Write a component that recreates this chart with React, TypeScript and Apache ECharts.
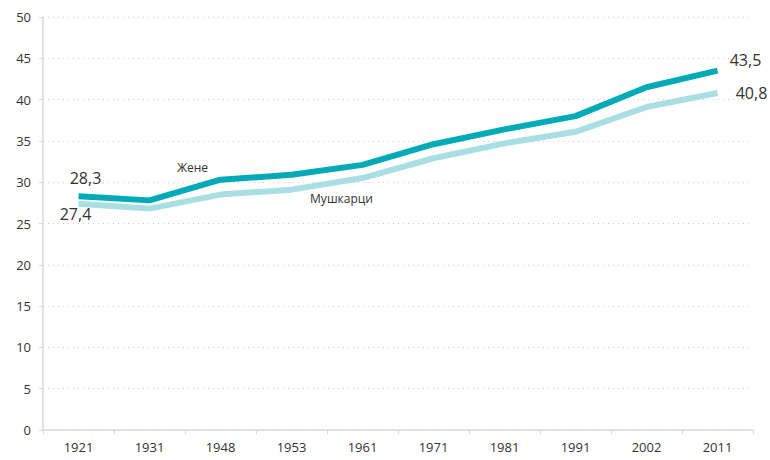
import React, { useEffect, useRef } from "react";
import * as echarts from "echarts";

const years = ["1921", "1931", "1948", "1953", "1961", "1971", "1981", "1991", "2002", "2011"];
const women = [28.3, 27.8, 30.3, 30.9, 32.1, 34.6, 36.4, 38.0, 41.5, 43.5];
const men = [27.4, 26.8, 28.5, 29.1, 30.5, 32.9, 34.7, 36.1, 39.1, 40.8];
const womenName = "Жене";
const menName = "Мушкарци";

const FONT = "'Open Sans', 'Noto Sans', sans-serif";

function fmt(v: number) {
  return v.toFixed(1).replace(".", ",");
}

export default function App() {
  const ref = useRef<HTMLDivElement>(null);
  useEffect(() => {
    const chart = echarts.init(ref.current!, null, { renderer: "svg" });
    const valLabel = (offset: number[]) => ({
      show: true,
      position: "inside",
      offset,
      formatter: (p: any) => fmt(p.value),
      fontSize: 16,
      color: "#333",
      fontFamily: FONT,
    });
    const nameLabel = (name: string, offset: number[]) => ({
      show: true,
      position: "inside",
      offset,
      formatter: name,
      fontSize: 12,
      color: "#333",
      fontFamily: FONT,
    });
    const wData: any[] = women.map((v, i) => {
      if (i === 0) return { value: v, label: valLabel([7, -18]) };
      if (i === 2) return { value: v, label: nameLabel(womenName, [-28, -12]) };
      if (i === women.length - 1) return { value: v, label: valLabel([28, -11]) };
      return v;
    });
    const mData: any[] = men.map((v, i) => {
      if (i === 0) return { value: v, label: valLabel([-3, 10]) };
      if (i === 3) return { value: v, label: nameLabel(menName, [50, 9]) };
      if (i === men.length - 1) return { value: v, label: valLabel([34, 0]) };
      return v;
    });
    chart.setOption({
      animation: false,
      grid: { left: 43, right: 17, top: 17, bottom: 30, containLabel: false },
      xAxis: {
        type: "category",
        data: years,
        boundaryGap: true,
        axisLine: { lineStyle: { color: "#d9d9d9", width: 1.5 } },
        axisTick: { show: true, length: 4, lineStyle: { color: "#d9d9d9" } },
        axisLabel: { color: "#333", fontSize: 13, fontFamily: FONT, margin: 10 },
      },
      yAxis: {
        type: "value",
        min: 0,
        max: 50,
        interval: 5,
        axisLine: { show: true, lineStyle: { color: "#d9d9d9", width: 1.5 } },
        axisTick: { show: true, length: 4, lineStyle: { color: "#d9d9d9" } },
        axisLabel: { color: "#333", fontSize: 13, fontFamily: FONT, margin: 12 },
        splitLine: { show: true, lineStyle: { color: "#c8c8c8", type: [1, 4], width: 1 } },
      },
      series: [
        {
          name: menName,
          type: "line",
          data: mData,
          symbol: "circle",
          symbolSize: 1,
          showSymbol: true,
          label: { show: false },
          itemStyle: { color: "rgba(0,0,0,0)", borderWidth: 0 },
          lineStyle: { color: "#a9dfe3", width: 6 },
          z: 2,
        },
        {
          name: womenName,
          type: "line",
          data: wData,
          symbol: "circle",
          symbolSize: 1,
          showSymbol: true,
          label: { show: false },
          itemStyle: { color: "rgba(0,0,0,0)", borderWidth: 0 },
          lineStyle: { color: "#00abb7", width: 6 },
          z: 3,
        },
      ],
    });
    return () => chart.dispose();
  }, []);
  return <div ref={ref} style={{ width: 770, height: 460, position: "absolute", left: 0, top: 0 }} />;
}
